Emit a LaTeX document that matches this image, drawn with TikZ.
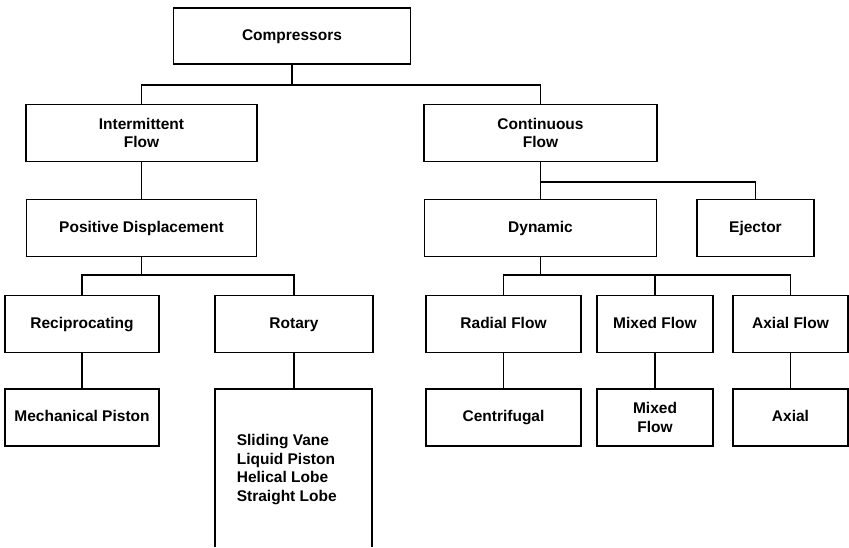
\documentclass[tikz,border=0pt]{standalone}
\usepackage{fontspec}
\setmainfont{Liberation Sans}
\usepackage{tikz}
\tikzset{box/.style={draw,line width=1.7pt,align=center,inner sep=0pt,minimum height=57pt,
    font=\bfseries\fontsize{15.5}{18.5}\selectfont},
  one/.style={text height=11pt,text depth=3pt}}

\begin{document}
\begin{tikzpicture}[x=1pt,y=-1pt,line width=1.7pt]
    \useasboundingbox (0,0) rectangle (849,547);
    \node[box,one,minimum width=237pt,minimum height=56pt] (comp) at (292,36) {Compressors};
    \node[box,minimum width=231pt] (inter) at (141.5,133) {Intermittent\\Flow};
    \node[box,minimum width=233pt] (cont) at (540.5,133) {Continuous\\Flow};
    \node[box,one,minimum width=230pt] (posd) at (141.5,228) {Positive Displacement};
    \node[box,one,minimum width=232pt] (dyn) at (540.5,228) {Dynamic};
    \node[box,one,minimum width=117pt] (ejec) at (755.5,228) {Ejector};
    \node[box,one,minimum width=154pt] (recip) at (82,324) {Reciprocating};
    \node[box,one,minimum width=158pt] (rot) at (294,324) {Rotary};
    \node[box,one,minimum width=155pt] (radial) at (503.5,324) {Radial Flow};
    \node[box,one,minimum width=116pt] (mixed) at (655,324) {Mixed Flow};
    \node[box,one,minimum width=115pt] (axflow) at (790.5,324) {Axial Flow};
    \node[box,one,minimum width=154pt] (mech) at (82,417.5) {Mechanical Piston};
    \node[box,one,minimum width=155pt] (centr) at (503.5,417.5) {Centrifugal};
    \node[box,minimum width=116pt] (mixflow) at (655,417.5) {Mixed\\Flow};
    \node[box,one,minimum width=115pt] (axial) at (790.5,417.5) {Axial};
    \node[box,draw=none,minimum height=0pt,align=left,anchor=north west] (rotlist) at (236,433.5)
        {Sliding Vane\\Liquid Piston\\Helical Lobe\\Straight Lobe};
    % open box round the rotary types
    \coordinate (rl) at (215,389);
    \coordinate (rr) at (372,389);
    \draw (rl |- 0,547) -- (rl) -- (rr) -- (rr |- 0,547);
    % tree lines
    \coordinate (bus1) at (0,85);
    \coordinate (bus2) at (0,182);
    \coordinate (bus3) at (0,275);
    \draw (comp.south) -- (comp.south |- bus1);
    \draw (inter.north) -- (inter.north |- bus1) -| (cont.north);
    \draw (inter.south) -- (posd.north);
    \draw (cont.south) -- (dyn.north);
    \draw (cont.south |- bus2) -| (ejec.north);
    \draw (posd.south) -- (posd.south |- bus3);
    \draw (recip.north) -- (recip.north |- bus3) -| (rot.north);
    \draw (dyn.south) -- (dyn.south |- bus3);
    \draw (radial.north) -- (radial.north |- bus3) -| (axflow.north);
    \draw (mixed.north) -- (mixed.north |- bus3);
    \draw (recip.south) -- (mech.north);
    \draw (rot.south) -- (rot.south |- rl);
    \draw (radial.south) -- (centr.north);
    \draw (mixed.south) -- (mixflow.north);
    \draw (axflow.south) -- (axial.north);
\end{tikzpicture}
\end{document}
